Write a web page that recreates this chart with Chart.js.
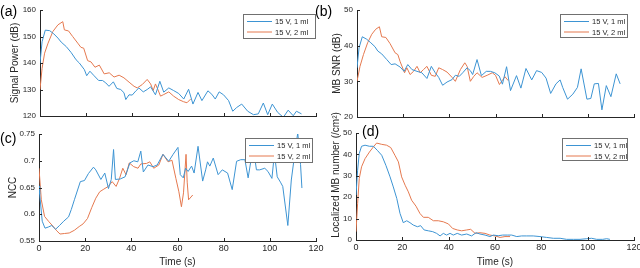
<!DOCTYPE html>
<html>
<head>
<meta charset="utf-8">
<script src="https://cdn.jsdelivr.net/npm/chart.js@4.4.1/dist/chart.umd.min.js"></script>
<style>
  body { margin: 0; background: #fff; }
  #wrap { position: relative; width: 640px; height: 268px; }
  #wrap canvas { position: absolute; left: 0; top: 0; }
</style>
</head>
<body>
<div id="wrap">
  <canvas id="chartA" width="640" height="268"></canvas>
  <canvas id="chartB" width="640" height="268"></canvas>
  <canvas id="chartC" width="640" height="268"></canvas>
  <canvas id="chartD" width="640" height="268"></canvas>
</div>
<script>
// ---------------- DATOS ----------------
const seriesNames = ['15 V, 1 ml', '15 V, 2 ml'];

// (a) Signal Power (dB)
const aTime1 = [0, 0.9, 2.3, 4.2, 6, 7.8, 9.2, 11.4, 13.5, 15.7,
  17.1, 19.3, 20.3, 21.7, 23.3, 25.5, 27.2, 28.6, 30, 31.9,
  33.4, 35.1, 36.5, 37.3, 38.7, 40.1, 41.6, 43, 44.9, 46.6,
  48.1, 50.2, 52.1, 53.8, 56, 58.1, 60.3, 62.5, 64.6, 66.5,
  68.7, 70.4, 73, 74.7, 76.2, 77.9, 79.8, 82, 83.8, 85.5,
  87.7, 90.3, 92.8, 94.9, 97.1, 99, 101, 103.3, 105.8, 107.9,
  110.1, 111.5, 113.7];
const aPower1 = [140, 148, 152.4, 152.2, 151, 149.4, 147.9, 146.2, 144, 141.2,
  140, 137.5, 135.2, 136.9, 135.4, 133.4, 133.4, 132.5, 131.2, 132.9,
  130.4, 130, 128.8, 126.2, 128, 127.9, 129.4, 130.6, 129.1, 130,
  131, 128, 133.1, 129, 130.6, 129.6, 128.5, 126.4, 130.1, 124.5,
  128.9, 125.8, 129.5, 128.2, 126.4, 129.1, 128, 125.8, 121.8, 123.2,
  124.5, 121.8, 120.5, 120.8, 124.9, 120.5, 124.5, 121.4, 119.5, 122.2,
  120.1, 121.8, 120.8];
const aTime2 = [0, 0.9, 2, 3.5, 5.6, 7.8, 9.9, 10.6, 12.4, 14.2,
  16.4, 17.8, 19, 20.7, 22.2, 23.9, 25.8, 27.9, 30.1, 32.2,
  34.4, 36.5, 39.1, 40.9, 42.3, 44.5, 46.6, 48.1, 49.2, 50.2,
  51.2, 52.4, 53.8, 56, 58.1, 60.3, 62.4, 63.9, 65.5];
const aPower2 = [130, 138, 143.7, 147.5, 151.9, 154.4, 155.6, 152.5, 152.1, 150,
  147.5, 145.9, 145.6, 140.9, 140.4, 138.4, 139.2, 135.9, 136.3, 134.7,
  135.4, 134.4, 132.5, 131.2, 130.6, 131.9, 133.8, 132.1, 129.6, 132.1,
  130.1, 127.5, 128.1, 129.1, 127.5, 126.2, 125.4, 125, 126.4];

// (b) MB SNR (dB)
const bTime1 = [0, 0.9, 2.3, 4.2, 6, 7.8, 9, 10.7, 12.9, 14.8,
  16.5, 18.7, 20.4, 22, 23.8, 26, 28.1, 30.3, 32.2, 33.9,
  35.4, 37.1, 39, 41.2, 42.6, 44.3, 45.8, 47.7, 49.1, 50.1,
  52, 53.9, 56, 57.8, 59.7, 61.6, 63, 64.8, 66.5, 69.1,
  71, 73.2, 75.7, 77.8, 80, 81.9, 83.9, 86.2, 88, 89.1,
  91.2, 93.5, 95.5, 97.1, 99.6, 101.3, 102.8, 104.6, 106.1, 108,
  110, 112.3, 114];
const bSnr1 = [33.8, 39.4, 42.5, 41.8, 40.8, 39.7, 38.5, 37.7, 36.1, 34.7,
  34.9, 34, 32.8, 34.7, 33.3, 32.8, 32.4, 30.8, 34.2, 32.4,
  31.1, 28.9, 29.8, 30.5, 31.7, 31.4, 32.4, 33.8, 33, 31.9,
  36.1, 31.6, 32.8, 32.8, 32.4, 31.5, 29.2, 34.1, 27.4, 31.6,
  28.1, 33.6, 30.4, 33, 32.5, 30.9, 26.6, 29.3, 30.4, 28.3,
  25, 26.4, 28.3, 33.5, 25, 25.2, 29.3, 29.4, 22, 28.8,
  25.7, 32.1, 29.3];
const bTime2 = [0, 1.3, 2.8, 4.6, 6.4, 8.1, 9.7, 10.7, 12.5, 14.3,
  16.5, 17.7, 18.7, 20.6, 21.6, 23, 24.5, 26, 27.4, 28.8,
  30.3, 32.2, 33.9, 35.4, 37.1, 39, 41.2, 42.6, 44.8, 46.7,
  47.7, 49.1, 50.6, 52, 54.2, 56.4, 58.6, 60, 61.7, 63.2,
  64.1, 65.5];
const bSnr2 = [30, 34.2, 37.5, 40.8, 43.2, 44.6, 45.3, 42.5, 42.3, 40.6,
  38, 37.5, 35.5, 32.4, 33.8, 31.9, 32.8, 34.2, 32.4, 33.3,
  34.2, 31.7, 31.4, 33.8, 33.3, 32.6, 31.1, 30, 33.3, 35.2,
  34.2, 30, 31.4, 32.4, 31.1, 31.7, 32.4, 31.7, 29.1, 30.5,
  31.3, 30.2];

// (c) NCC
const cTime1 = [0, 0.3, 1.4, 2.6, 4, 5.5, 7.2, 8.9, 10.7, 12.8,
  14, 15.4, 17.9, 19.7, 21.4, 23.6, 24.6, 26.8, 28.5, 30.1,
  31.3, 32.3, 33.1, 35.2, 37.3, 39.4, 41.1, 42.8, 44.1, 45.2,
  47.2, 49.4, 51.2, 53.7, 56.2, 58.1, 60.2, 61.2, 62.5, 63.5,
  64.6, 66.1, 67.2, 68.9, 70.9, 72.2, 73, 74, 75.5, 77.6,
  79.4, 81.7, 83.7, 85.6, 87.4, 89.2, 90.6, 91.8, 93, 94.2,
  95.6, 97.8, 99.2, 100.9, 102, 103.2, 104.6, 105.6, 107.8, 109.3,
  111, 112.1, 113.3, 113.9];
const cNcc1 = [0.653, 0.637, 0.587, 0.574, 0.576, 0.579, 0.572, 0.579, 0.587, 0.595,
  0.609, 0.628, 0.661, 0.663, 0.676, 0.688, 0.683, 0.665, 0.677, 0.648,
  0.665, 0.721, 0.665, 0.666, 0.670, 0.696, 0.700, 0.698, 0.718, 0.679,
  0.692, 0.689, 0.692, 0.712, 0.699, 0.712, 0.725, 0.674, 0.668, 0.686,
  0.680, 0.690, 0.677, 0.727, 0.662, 0.683, 0.698, 0.690, 0.705, 0.674,
  0.683, 0.677, 0.646, 0.699, 0.702, 0.702, 0.668, 0.700, 0.720, 0.683,
  0.683, 0.686, 0.680, 0.667, 0.714, 0.670, 0.660, 0.652, 0.579, 0.664,
  0.720, 0.752, 0.693, 0.649];
const cTime2 = [0, 1, 2.4, 4.3, 6, 7.7, 9.1, 11, 13.1, 15.3,
  17.4, 19.1, 21, 22.9, 24.6, 26.3, 28.1, 30, 31.7, 33.4,
  34.9, 36.3, 37.7, 39.1, 41, 42.9, 44.1, 46.6, 48, 49.7,
  51.9, 53.7, 55.9, 57.6, 59.3, 60.6, 61.7, 62.6, 63.7, 64.2,
  64.8, 66.6];
const cNcc2 = [0.686, 0.627, 0.596, 0.586, 0.578, 0.569, 0.563, 0.564, 0.565, 0.570,
  0.577, 0.582, 0.592, 0.613, 0.630, 0.642, 0.647, 0.652, 0.661, 0.652,
  0.667, 0.686, 0.674, 0.696, 0.689, 0.686, 0.694, 0.695, 0.698, 0.686,
  0.692, 0.712, 0.698, 0.701, 0.667, 0.642, 0.614, 0.640, 0.712, 0.660,
  0.627, 0.636];

// (d) Localized MB number (/cm2)
const dTime1 = [0, 0.7, 1.4, 2.4, 3.9, 5.8, 7.5, 9.2, 11.1, 12.9,
  14.7, 16.1, 17.6, 19, 20.4, 21.9, 23.3, 24.7, 26.5, 27.9,
  29.4, 31.2, 33.1, 34.8, 36.3, 37.7, 39.1, 40.6, 42, 43.7,
  45.6, 47.8, 49.9, 51.8, 53.5, 55.7, 57.8, 59.3, 61.4, 63.3,
  65.3, 67.2, 69.4, 71.5, 73.7, 76.5, 79.4, 82.3, 85.2, 88.1,
  90.9, 93.8, 96.7, 99.6, 101.7, 103.9, 106.5, 108.2, 109.6];
const dCount1 = [21, 32.6, 40.4, 43.8, 44.3, 43.8, 43.8, 41.9, 39.6, 34.9,
  29.5, 24.8, 19.4, 12.4, 8.1, 9, 8.1, 7, 6.2, 6.7,
  4.7, 4.3, 3.9, 3.1, 1.9, 3.1, 2.3, 3.1, 2.3, 3.1,
  2.3, 2.8, 1.9, 3.4, 2.8, 2.3, 1.6, 2.3, 2, 2.3,
  2.3, 2.3, 1.6, 1.9, 1.9, 1.9, 1.6, 1.2, 0.8, 0.8,
  0.3, 0.3, 0.3, 0.6, 0.8, 0.3, 0.3, 0.6, 0.3];
const dTime2 = [0, 0.7, 1.4, 2.4, 3.9, 5.8, 7.5, 8.9, 11.1, 13.2,
  15, 16.8, 18.3, 19.7, 21.2, 22.6, 24, 25.9, 27.6, 29.1,
  31.2, 33.4, 35.5, 37.7, 39.9, 41.7, 43.7, 45.6, 47.8, 49.5,
  51.4, 53.5, 55.7, 57.8, 60, 62.2, 64.3, 66.5];
const dCount2 = [3.9, 17, 28.7, 34.2, 38, 41.1, 43.5, 45.3, 44.7, 44.3,
  43.2, 39.6, 36.5, 29.5, 25.6, 22.5, 18.6, 15.8, 12.4, 10.6,
  10.6, 9, 9, 8.5, 7.5, 5.4, 4.7, 4.3, 4.7, 5,
  3.1, 3.4, 3.1, 2.3, 1.9, 1.2, 1.6, 1.6];

// ---------------- ESTILO ----------------
const BLUE = '#3d94d3';
const ORANGE = '#e5794f';
const INK = '#262626';
const FONT = '"Liberation Sans", Arial, sans-serif';

function puntos(times, vals) {
    return times.map((t, i) => ({ x: t, y: vals[i] }));
}

// ticks hacia dentro, leyenda con caja y letra del panel (estilo MATLAB)
const panelLook = {
    id: 'panelLook',
    afterDraw(chart, args, o) {
        const ctx = chart.ctx;
        const a = chart.chartArea;
        const xs = chart.scales.x, ys = chart.scales.y;
        ctx.save();
        ctx.strokeStyle = INK;
        ctx.lineWidth = 1;
        ctx.beginPath();
        xs.ticks.forEach(t => {
            const p = Math.round(xs.getPixelForValue(t.value)) + 0.5;
            ctx.moveTo(p, a.bottom);
            ctx.lineTo(p, a.bottom - 3);
        });
        ys.ticks.forEach(t => {
            const p = Math.round(ys.getPixelForValue(t.value)) + 0.5;
            ctx.moveTo(a.left, p);
            ctx.lineTo(a.left + 3, p);
        });
        ctx.stroke();

        const lg = o.legend;
        ctx.fillStyle = '#fff';
        ctx.fillRect(lg.x, lg.y, lg.w, lg.h);
        ctx.strokeStyle = '#707070';
        ctx.strokeRect(lg.x + 0.5, lg.y + 0.5, lg.w, lg.h);
        ctx.font = '7.5px ' + FONT;
        ctx.textBaseline = 'middle';
        ctx.textAlign = 'left';
        chart.data.datasets.forEach((ds, i) => {
            const yy = lg.y + 7.5 + i * 10.5;
            ctx.strokeStyle = ds.borderColor;
            ctx.beginPath();
            ctx.moveTo(lg.x + 4, yy);
            ctx.lineTo(lg.x + 29, yy);
            ctx.stroke();
            ctx.fillStyle = INK;
            ctx.fillText(ds.label, lg.x + 32, yy + 0.5);
        });

        if (o.yTitle) {
            ctx.save();
            ctx.translate(o.yTitle.x, o.yTitle.y);
            ctx.rotate(-Math.PI / 2);
            ctx.textAlign = 'center';
            ctx.textBaseline = 'middle';
            ctx.fillStyle = INK;
            ctx.font = '10px ' + FONT;
            ctx.fillText(o.yTitle.text, 0, 0);
            ctx.restore();
        }

        ctx.fillStyle = '#000';
        ctx.font = '14px ' + FONT;
        ctx.textBaseline = 'alphabetic';
        ctx.fillText(o.letter, o.lx, o.ly);
        ctx.restore();
    }
};

function crearPanel(id, p) {
    const [l, t, r, b] = p.area;
    return new Chart(document.getElementById(id), {
        type: 'line',
        data: {
            datasets: [
                { label: seriesNames[0], data: puntos(p.t1, p.v1), borderColor: BLUE, borderWidth: 1, pointRadius: 0, fill: false },
                { label: seriesNames[1], data: puntos(p.t2, p.v2), borderColor: ORANGE, borderWidth: 1, pointRadius: 0, fill: false }
            ]
        },
        options: {
            responsive: false,
            animation: false,
            events: [],
            layout: { padding: { left: l - p.yW, top: t, right: 640 - r, bottom: 268 - b - p.xH } },
            plugins: {
                legend: { display: false },
                tooltip: { enabled: false },
                panelLook: { legend: p.legend, letter: p.letter, lx: p.lx, ly: p.ly, yTitle: p.yTitleCustom }
            },
            scales: {
                x: {
                    type: 'linear', min: 0, max: 120,
                    ticks: { stepSize: 20, display: p.showX, padding: 2, color: INK, font: { family: FONT, size: 9 } },
                    grid: { display: false, drawTicks: false },
                    border: { color: INK, width: 1 },
                    title: { display: p.showX, text: 'Time (s)', color: INK, font: { family: FONT, size: 10 }, padding: 0 },
                    afterFit: s => { s.height = p.xH; s.paddingLeft = 0; s.paddingRight = 0; }
                },
                y: {
                    min: p.ymin, max: p.ymax,
                    ticks: { stepSize: p.ystep, padding: 4, color: INK, font: { family: FONT, size: 8 },
                        callback: v => String(+v.toFixed(2)) },
                    grid: { display: false, drawTicks: false },
                    border: { color: INK, width: 1 },
                    title: { display: !!p.yTitle, text: p.yTitle, color: INK, font: { family: FONT, size: 10 }, padding: { top: 4, bottom: 4 } },
                    afterFit: s => { s.width = p.yW; s.paddingTop = 0; s.paddingBottom = 0; }
                }
            }
        },
        plugins: [panelLook]
    });
}

crearPanel('chartA', {
    area: [40, 10, 316, 116], yW: 35, xH: 10, showX: false,
    t1: aTime1, v1: aPower1, t2: aTime2, v2: aPower2,
    ymin: 120, ymax: 160, ystep: 10, yTitle: 'Signal Power (dB)',
    legend: { x: 243, y: 14, w: 72, h: 24 }, letter: '(a)', lx: 0, ly: 16
});
crearPanel('chartB', {
    area: [357, 10, 634, 117], yW: 30, xH: 10, showX: false,
    t1: bTime1, v1: bSnr1, t2: bTime2, v2: bSnr2,
    ymin: 20, ymax: 50, ystep: 10, yTitle: 'MB SNR (dB)',
    legend: { x: 560, y: 14, w: 67, h: 23 }, letter: '(b)', lx: 315, ly: 16
});
crearPanel('chartC', {
    area: [39, 134, 316, 241], yW: 36, xH: 27, showX: true,
    t1: cTime1, v1: cNcc1, t2: cTime2, v2: cNcc2,
    ymin: 0.55, ymax: 0.75, ystep: 0.05, yTitle: 'NCC',
    legend: { x: 245, y: 138, w: 67, h: 24 }, letter: '(c)', lx: 0, ly: 143
});
crearPanel('chartD', {
    area: [356, 133, 634, 240], yW: 30, xH: 28, showX: true,
    t1: dTime1, v1: dCount1, t2: dTime2, v2: dCount2,
    ymin: 0, ymax: 50, ystep: 10, yTitle: '',
    yTitleCustom: { text: 'Localized MB number (/cm²)', x: 336, y: 175 },
    legend: { x: 562, y: 138, w: 65, h: 22 }, letter: '(d)', lx: 362, ly: 136
});
</script>
</body>
</html>
